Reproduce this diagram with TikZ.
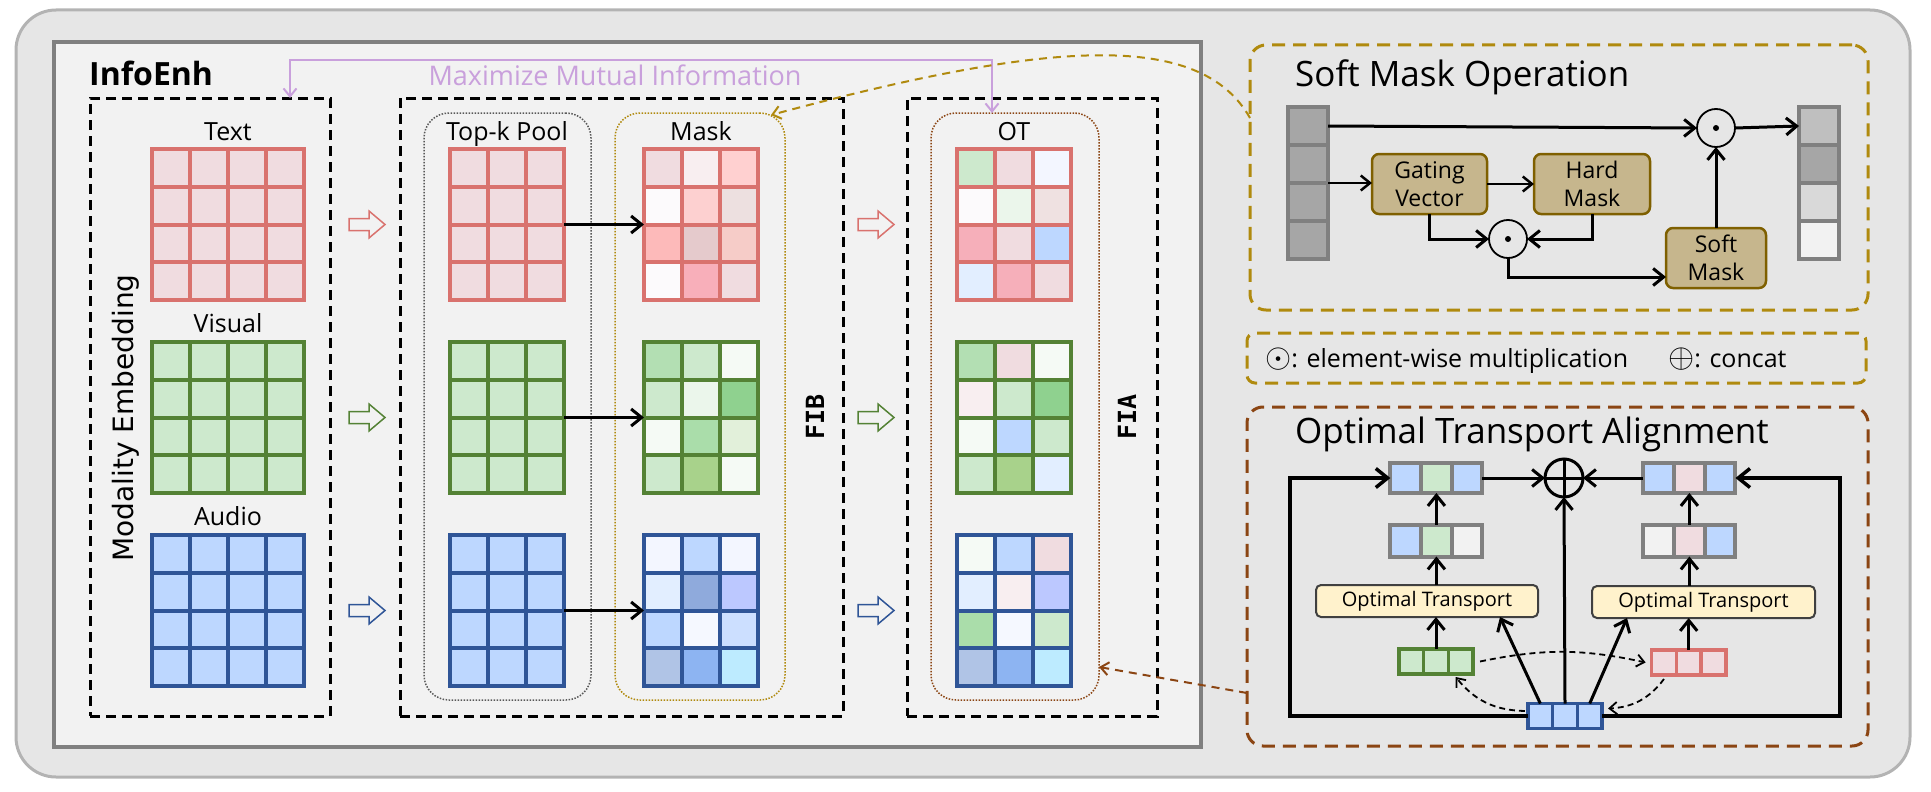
\documentclass[tikz,border=0pt]{standalone}
\usepackage{fontspec}
\setmainfont{Open Sans}
\newfontfamily\embfont{DejaVu Sans}
\newfontfamily\fibfont{DejaVu Sans Mono}
\usepackage{tikz}
\usetikzlibrary{arrows, arrows.meta, positioning, calc}

\definecolor{outerbg}{HTML}{E6E6E6}
\definecolor{outerline}{HTML}{B3B3B3}
\definecolor{innerbg}{HTML}{F2F2F2}
\definecolor{innerline}{HTML}{808080}
\definecolor{txtred}{HTML}{D9726E}
\definecolor{visgreen}{HTML}{548235}
\definecolor{audblue}{HTML}{2F5597}
\definecolor{txtfill}{HTML}{F0DCE0}
\definecolor{visfill}{HTML}{CDE9CD}
\definecolor{audfill}{HTML}{BDD7FF}
\definecolor{mipurple}{HTML}{C9A0DC}
\definecolor{maskgold}{HTML}{B08A0E}
\definecolor{otbrown}{HTML}{8B4513}
\definecolor{topkgray}{HTML}{595959}
\definecolor{optan}{HTML}{C6B68D}
\definecolor{opline}{HTML}{7F6000}
\definecolor{otfill}{HTML}{FFF2CC}
\definecolor{vecgray}{HTML}{808080}

\newcommand{\fsz}[1]{\fontsize{#1}{#1}\selectfont}

% grid of feature cells: name, left x, top y, columns, border colour, cell colours
\newcommand{\featgrid}[6]{%
  \foreach \cc [count=\i from 0] in {#6} {
    \pgfmathtruncatemacro{\row}{floor(\i/#4)}
    \pgfmathtruncatemacro{\col}{\i-\row*#4}
    \definecolor{cellfill}{HTML}{\cc}
    \filldraw[fill=cellfill, draw=#5, line width=4pt]
      ({#2+\col*38},{#3+\row*37.75}) rectangle ++(38,37.75);
  }
  \coordinate (#1-w) at (#2,{#3+75.5});
  \coordinate (#1-e) at ({#2+#4*38},{#3+75.5});
}

% hollow block arrow: x, y, colour
\newcommand{\hollowarrow}[3]{%
  \draw[#3, line width=1.5pt, fill=innerbg, line join=miter]
    (#1,#2) ++(-18,-6) -- ++(20,0) -- ++(0,-7.5) -- ++(16,13.5)
    -- ++(-16,13.5) -- ++(0,-7.5) -- ++(-20,0) -- cycle;
}

\begin{document}
\begin{tikzpicture}[x=1pt, y=-1pt, >={Straight Barb[length=3pt 2.5, width=5pt 4]},
  plainbox/.style={inner sep=0pt, outer sep=0pt},
  blockbox/.style={plainbox, draw=black, line width=3pt, dash pattern=on 10pt off 6pt},
  poolbox/.style={plainbox, rounded corners=25pt, line width=1.5pt, dash pattern=on 1.5pt off 1.5pt},
  partbox/.style={plainbox, rounded corners=16pt, line width=3pt, dash pattern=on 13pt off 8pt},
  lbl/.style={font=\fsz{25}, inner sep=0pt, anchor=base},
  parttitle/.style={font=\fsz{35}, inner sep=0pt, anchor=base west},
  flow/.style={->, line width=3pt},
  opbox/.style={plainbox, rounded corners=7pt, draw=opline, fill=optan, line width=2.5pt,
    minimum height=60pt, align=center, font=\fontsize{23}{28}\selectfont},
  opcircle/.style={circle, draw, line width=1.8pt, minimum size=38pt, inner sep=0pt, outer sep=0pt},
  odotop/.style={opcircle, path picture={\fill (path picture bounding box.center) circle (3pt);}},
  oplusop/.style={opcircle, line width=3pt, path picture={
    \draw[line width=3pt] (path picture bounding box.north) -- (path picture bounding box.south)
      (path picture bounding box.west) -- (path picture bounding box.east);}},
  vcell/.style={draw=vecgray, line width=4pt, minimum width=40pt, minimum height=38pt, inner sep=0pt, outer sep=0pt},
  hcell/.style={draw=vecgray, line width=4pt, minimum width=30.7pt, minimum height=30pt, inner sep=0pt, outer sep=0pt},
  scell/.style={line width=3.5pt, minimum width=24.7pt, minimum height=25pt, inner sep=0pt, outer sep=0pt},
  otop/.style={plainbox, rounded corners=5pt, draw=black!75, fill=otfill, line width=2pt,
    minimum width=222pt, minimum height=32pt, font=\fsz{20}},
  otswap/.style={->, line width=1.8pt, dash pattern=on 6pt off 4pt}]

  \useasboundingbox (0,0) rectangle (1931,792);
  \draw[draw=outerline, fill=outerbg, line width=3pt, rounded corners=40pt] (16,10) rectangle (1910,777);
  \draw[draw=innerline, fill=innerbg, line width=4pt] (54,42) rectangle (1201,747);

  % InfoEnh panel
  \node[font=\fsz{32}\bfseries, anchor=base west, inner sep=0pt] (infoenh) at (89,85) {InfoEnh};
  \node[blockbox, minimum width=240pt, minimum height=618pt] (embbox) at (210,407) {};
  \node[blockbox, minimum width=443pt, minimum height=618pt] (fibbox) at (621.5,407) {};
  \node[blockbox, minimum width=250pt, minimum height=618pt] (fiabox) at (1032,407) {};
  \node[poolbox, draw=topkgray, minimum width=167pt, minimum height=587pt] (topkbox) at (507.5,406.5) {};
  \node[poolbox, draw=maskgold, minimum width=170pt, minimum height=587pt] (maskbox) at (700,406.5) {};
  \node[poolbox, draw=otbrown, minimum width=168pt, minimum height=587pt] (otbox) at (1015,406.5) {};

  \node[lbl] (txtlbl) at (228,140) {Text};
  \node[lbl] (vislbl) at (228,332) {Visual};
  \node[lbl] (audlbl) at (228,525) {Audio};
  \node[lbl] (topklbl) at (507,140) {Top-k Pool};
  \node[lbl] (masklbl) at (701,140) {Mask};
  \node[lbl] (otlbl) at (1014,140) {OT};
  \node[rotate=90, font=\embfont\fsz{28}, inner sep=0pt] (embtitle) at (126,418) {Modality Embedding};
  \node[rotate=90, font=\fibfont\bfseries\fsz{25}, inner sep=0pt] (fibtitle) at (815,417) {FIB};
  \node[rotate=90, font=\fibfont\bfseries\fsz{25}, inner sep=0pt] (fiatitle) at (1127,417) {FIA};

  \featgrid{txt}{152}{149}{4}{txtred}{F0DCE0,F0DCE0,F0DCE0,F0DCE0,F0DCE0,F0DCE0,F0DCE0,F0DCE0,
    F0DCE0,F0DCE0,F0DCE0,F0DCE0,F0DCE0,F0DCE0,F0DCE0,F0DCE0}
  \featgrid{vis}{152}{342}{4}{visgreen}{CDE9CD,CDE9CD,CDE9CD,CDE9CD,CDE9CD,CDE9CD,CDE9CD,CDE9CD,
    CDE9CD,CDE9CD,CDE9CD,CDE9CD,CDE9CD,CDE9CD,CDE9CD,CDE9CD}
  \featgrid{aud}{152}{535}{4}{audblue}{BDD7FF,BDD7FF,BDD7FF,BDD7FF,BDD7FF,BDD7FF,BDD7FF,BDD7FF,
    BDD7FF,BDD7FF,BDD7FF,BDD7FF,BDD7FF,BDD7FF,BDD7FF,BDD7FF}

  \featgrid{topk1}{450}{149}{3}{txtred}{F0DCE0,F0DCE0,F0DCE0,F0DCE0,F0DCE0,F0DCE0,
    F0DCE0,F0DCE0,F0DCE0,F0DCE0,F0DCE0,F0DCE0}
  \featgrid{topk2}{450}{342}{3}{visgreen}{CDE9CD,CDE9CD,CDE9CD,CDE9CD,CDE9CD,CDE9CD,
    CDE9CD,CDE9CD,CDE9CD,CDE9CD,CDE9CD,CDE9CD}
  \featgrid{topk3}{450}{535}{3}{audblue}{BDD7FF,BDD7FF,BDD7FF,BDD7FF,BDD7FF,BDD7FF,
    BDD7FF,BDD7FF,BDD7FF,BDD7FF,BDD7FF,BDD7FF}

  \featgrid{mask1}{644}{149}{3}{txtred}{F0DCE0,F8EEF0,FFD0D0,FCFAFC,FDD0D0,EDE0E0,
    FDBABA,E5CACC,F6CCC8,FCFAFC,F8AFBA,F0DCE0}
  \featgrid{mask2}{644}{342}{3}{visgreen}{B3DFB3,CDE9CD,F5FAF5,CDE9CD,EBF6EB,8FD18F,
    F5FAF5,AADDAA,E2F0DA,CDE9CD,A8D28B,F5FAF5}
  \featgrid{mask3}{644}{535}{3}{audblue}{F3F6FF,BDD7FF,F3F6FF,E2EEFF,8FAADC,BCC8FF,
    BDD7FF,F5F8FF,CCDFFF,B0C4E6,8DB4F2,BDEBFF}

  \featgrid{ot1}{957}{149}{3}{txtred}{CDE9CD,F0DCE0,F3F6FF,FCFAFC,EBF6EB,EFE1E1,
    F6AFBA,F0DCE0,BDD7FF,E2EEFF,F6AFBA,F0DCE0}
  \featgrid{ot2}{957}{342}{3}{visgreen}{B3DFB3,F0DCE0,F5FAF5,F8EEF0,CDE9CD,8FD18F,
    F5FAF5,BDD7FF,CDE9CD,CDE9CD,A8D28B,E2EEFF}
  \featgrid{ot3}{957}{535}{3}{audblue}{F5FAF5,BDD7FF,F0DCE0,E2EEFF,F8EEF0,BCC8FF,
    AADDAA,F5F8FF,CDE9CD,B0C4E6,8DB4F2,BDEBFF}

  \foreach \m in {1,2,3}
    \draw[flow] (topk\m-e) -- (mask\m-w);
  \foreach \yy/\cl in {224.5/txtred, 417.5/visgreen, 610.5/audblue} {
    \hollowarrow{367}{\yy}{\cl}
    \hollowarrow{876}{\yy}{\cl}
  }

  \draw[<->, mipurple, line width=2pt] ([xshift=80pt]embbox.north) -- ++(0,-38) -| ([xshift=-23pt]otbox.north);
  \node[font=\fsz{27}, text=mipurple, anchor=base, inner sep=0pt] (mitext) at (615,85) {Maximize Mutual Information};

  % Soft Mask Operation
  \node[partbox, draw=maskgold, minimum width=618pt, minimum height=265pt] (softbox) at (1559,177.5) {};
  \node[parttitle] (softtitle) at (1295,86) {Soft Mask Operation};
  \foreach \f [count=\k] in {A6A6A6,A6A6A6,A6A6A6,A6A6A6} {
    \definecolor{vfill}{HTML}{\f}
    \node[vcell, fill=vfill] (in\k) at (1308,{88+38*\k}) {};
  }
  \foreach \f [count=\k] in {BFBFBF,A6A6A6,D9D9D9,F2F2F2} {
    \definecolor{vfill}{HTML}{\f}
    \node[vcell, fill=vfill] (out\k) at (1819,{88+38*\k}) {};
  }
  \node[odotop] (bigdot) at (1716,128) {};
  \node[opbox, minimum width=115pt] (gate) at (1429.5,184) {Gating\\Vector};
  \node[opbox, minimum width=116pt, right=47pt of gate] (hard) {Hard\\Mask};
  \node[opbox, minimum width=100pt] (soft) at (1716,258) {Soft\\Mask};
  \node[odotop] (smalldot) at (1508,239) {};

  \draw[flow] (in1.east) -- (bigdot.west);
  \draw[flow] (bigdot.east) -- (out1.west);
  \draw[flow, line width=2.5pt] (in2.south east) -- (in2.south east -| gate.west);
  \draw[flow, line width=2.5pt] (gate.east) -- (gate.east -| hard.west);
  \draw[flow] (gate.south) |- (smalldot.west);
  \draw[flow] (hard.south) |- (smalldot.east);
  \draw[flow] (smalldot.south) |- ([yshift=-19pt]soft.west);
  \draw[flow] (soft.north) -- (bigdot.south);

  % legend
  \node[partbox, draw=maskgold, minimum width=619pt, minimum height=50pt, rounded corners=8pt] (legendbox) at (1556.5,358) {};
  \node[font=\fsz{25}, anchor=base west, inner sep=0pt] (legend) at (1265,367)
    {\scalebox{1.35}{$\odot$}: element-wise multiplication\hspace{1.6em}\scalebox{1.35}{$\oplus$}: concat};

  % Optimal Transport Alignment
  \node[partbox, draw=otbrown, minimum width=621pt, minimum height=339pt] (otabox) at (1557.5,576.5) {};
  \node[parttitle] (otatitle) at (1295,443) {Optimal Transport Alignment};
  \foreach \f [count=\k] in {BDD7FF,CDE9CD,BDD7FF} {
    \definecolor{vfill}{HTML}{\f}
    \node[hcell, fill=vfill] (tl\k) at ({1375+30.7*\k},478) {};
  }
  \foreach \f [count=\k] in {BDD7FF,F0DCE0,BDD7FF} {
    \definecolor{vfill}{HTML}{\f}
    \node[hcell, fill=vfill] (tr\k) at ({1628+30.7*\k},478) {};
  }
  \foreach \f [count=\k] in {BDD7FF,CDE9CD,F2F2F2} {
    \definecolor{vfill}{HTML}{\f}
    \node[hcell, fill=vfill, minimum height=32pt] (ml\k) at ({1375+30.7*\k},540.5) {};
  }
  \foreach \f [count=\k] in {F2F2F2,F0DCE0,BDD7FF} {
    \definecolor{vfill}{HTML}{\f}
    \node[hcell, fill=vfill, minimum height=32pt] (mr\k) at ({1628+30.7*\k},540.5) {};
  }
  \node[oplusop] (plus) at (1564,478) {};
  \node[otop] (otl) at (1427,601) {Optimal Transport};
  \node[otop, minimum width=223pt] (otr) at (1703.5,602) {Optimal Transport};
  \foreach \k in {1,2,3} {
    \node[scell, draw=visgreen, fill=visfill] (gv\k) at ({1386.6+24.7*\k},661.5) {};
    \node[scell, draw=txtred, fill=txtfill] (pv\k) at ({1639.3+24.7*\k},662.5) {};
    \node[scell, draw=audblue, fill=audfill] (bv\k) at ({1515.6+24.7*\k},716) {};
  }

  \draw[flow] (gv2.north) -- (gv2.north |- otl.south);
  \draw[flow] (otl.north -| ml2.south) -- (ml2.south);
  \draw[flow] (ml2.north) -- (tl2.south);
  \draw[flow] (pv2.north) -- (pv2.north |- otr.south);
  \draw[flow] (otr.north -| mr2.south) -- (mr2.south);
  \draw[flow] (mr2.north) -- (tr2.south);
  \draw[flow] (tl3.east) -- (plus.west);
  \draw[flow] (tr1.west) -- (plus.east);
  \draw[flow] (bv2.north) -- (plus.south);
  \draw[flow] (bv1.north) -- ([xshift=73pt]otl.south);
  \draw[flow] (bv3.north) -- ([xshift=-76.5pt]otr.south);
  \draw[flow, line width=3.5pt] (bv1.west) -- ++(-238,0) |- (tl1.west);
  \draw[flow, line width=3.5pt] (bv3.east) -- ++(238,0) |- (tr3.east);
  \draw[otswap] ([xshift=7pt]gv3.east) to[bend left=12] ([xshift=-6pt]pv1.west);
  \draw[otswap] ([yshift=-4pt]pv1.south) to[bend left=25] ([shift={(6pt,-5pt)}]bv3.north east);
  \draw[otswap] ([shift={(-3pt,5pt)}]bv1.west) to[bend left=25] ([shift={(-5pt,-3pt)}]gv3.south);

  % links between panels
  \draw[->, maskgold, line width=2pt, dash pattern=on 8pt off 6pt]
    (softbox.west |- 0,118) .. controls (1200,30) and (1050,40) .. ([shift={(-14pt,-2pt)}]maskbox.north east);
  \draw[->, otbrown, line width=2pt, dash pattern=on 8pt off 6pt]
    (otabox.west |- 0,693) -- (otbox.east |- 0,667);
\end{tikzpicture}
\end{document}
